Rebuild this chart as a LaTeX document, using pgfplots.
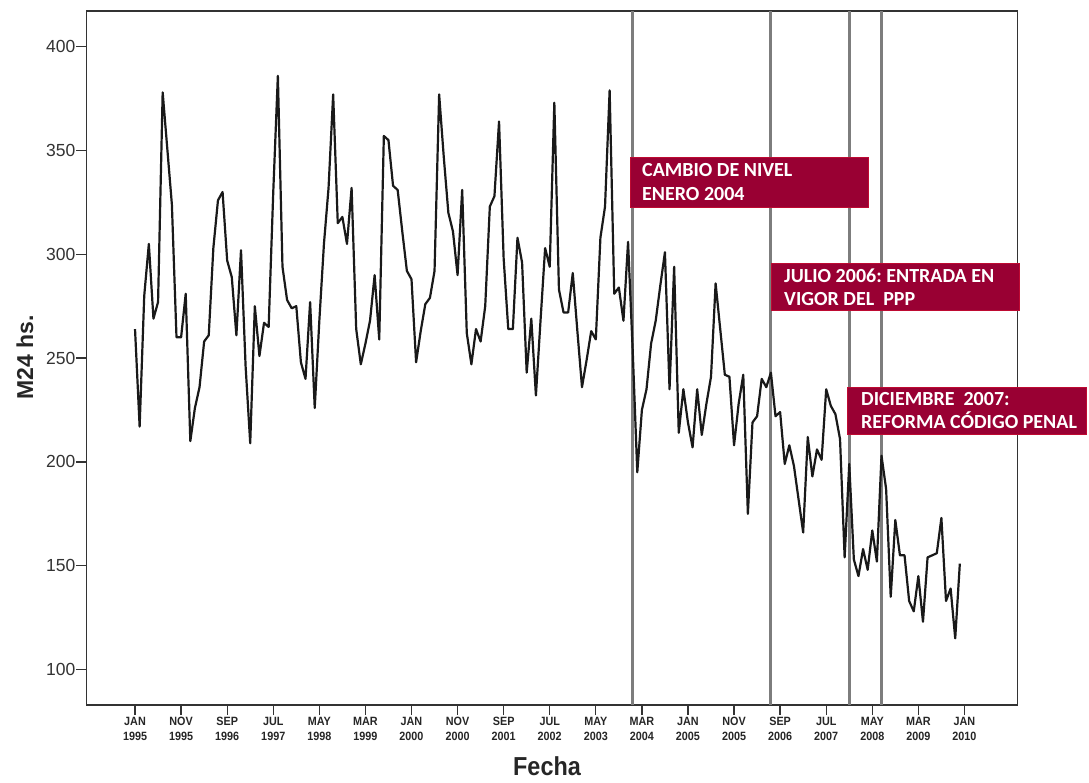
\documentclass[border=0pt]{standalone}
\usepackage{fontspec}
\setmainfont{Liberation Sans}
\newfontfamily\boxfont{Carlito}
\newfontfamily\narrowfont[FakeStretch=0.9]{Liberation Sans}
\newfontfamily\labelfont[FakeStretch=0.9]{Liberation Sans}
\usepackage{pgfplots}
\usepackage{pgfplotstable}
\pgfplotsset{compat=1.18}
\definecolor{boxred}{RGB}{153,0,51}
\definecolor{boxedge}{RGB}{190,10,50}
\definecolor{vline}{RGB}{125,125,125}

\pgfplotstableread{
m v
0 264
1 217
2 280
3 305
4 269
5 277
6 378
7 351
8 324
9 260
10 260
11 281
12 210
13 226
14 236
15 258
16 261
17 303
18 326
19 330
20 297
21 289
22 261
23 302
24 246
25 209
26 275
27 251
28 267
29 265
30 330
31 386
32 294
33 278
34 274
35 275
36 248
37 240
38 277
39 226
40 268
41 305
42 332
43 377
44 315
45 318
46 305
47 332
48 264
49 247
50 257
51 268
52 290
53 259
54 357
55 355
56 333
57 331
58 311
59 292
60 288
61 248
62 263
63 276
64 279
65 292
66 377
67 347
68 320
69 311
70 290
71 331
72 262
73 247
74 264
75 258
76 275
77 323
78 328
79 364
80 298
81 264
82 264
83 308
84 296
85 243
86 269
87 232
88 268
89 303
90 294
91 373
92 283
93 272
94 272
95 291
96 263
97 236
98 249
99 263
100 259
101 308
102 323
103 379
104 281
105 284
106 268
107 306
108 254
109 195
110 225
111 235
112 257
113 268
114 285
115 301
116 235
117 294
118 214
119 235
120 219
121 207
122 235
123 213
124 228
125 241
126 286
127 264
128 242
129 241
130 208
131 228
132 242
133 175
134 219
135 222
136 240
137 236
138 243
139 222
140 224
141 199
142 208
143 198
144 182
145 166
146 212
147 193
148 206
149 201
150 235
151 227
152 223
153 211
154 154
155 199
156 153
157 145
158 158
159 148
160 167
161 152
162 203
163 187
164 135
165 172
166 155
167 155
168 133
169 128
170 145
171 123
172 154
173 155
174 156
175 173
176 133
177 139
178 115
179 151
}\datatable

\begin{document}
\begin{tikzpicture}
\useasboundingbox (0,0) rectangle (1089pt,782pt);
\begin{axis}[
  at={(86.5pt,77pt)}, anchor=south west,
  scale only axis,
  width=931.2pt, height=694pt,
  xmin=-10.53, xmax=191.56,
  ymin=82.9, ymax=417.2,
  axis line style={black!80, line width=1.5pt},
  tick pos=left,
  tick align=outside,
  major tick length=10pt,
  tick style={black!80, line width=1.3pt},
  xtick={0,10,...,180},
  xticklabels={{JAN\\1995},{NOV\\1995},{SEP\\1996},{JUL\\1997},{MAY\\1998},{MAR\\1999},{JAN\\2000},{NOV\\2000},{SEP\\2001},{JUL\\2002},{MAY\\2003},{MAR\\2004},{JAN\\2005},{NOV\\2005},{SEP\\2006},{JUL\\2007},{MAY\\2008},{MAR\\2009},{JAN\\2010}},
  xticklabel style={font=\narrowfont\bfseries\fontsize{12}{14.8}\selectfont, align=center, text=black!85, inner sep=2pt},
  ytick={100,150,...,400},
  /pgf/number format/assume math mode=true,
  yticklabel style={font=\fontsize{17.5}{20}\selectfont, text=black!80, inner sep=1pt},
  clip=false,
]
\addplot[vline, line width=3pt] coordinates {(108,82.9) (108,417.2)};
\addplot[vline, line width=3pt] coordinates {(138,82.9) (138,417.2)};
\addplot[vline, line width=3pt] coordinates {(155,82.9) (155,417.2)};
\addplot[vline, line width=3pt] coordinates {(162,82.9) (162,417.2)};
\addplot[black!90, line width=2.2pt, line join=round, mark=none] table[x=m, y=v] {\datatable};
\end{axis}
% annotation boxes
\fill[boxred, draw=boxedge, line width=0.8pt] (630pt,575pt) rectangle (868pt,625pt);
\fill[boxred, draw=boxedge, line width=0.8pt] (771.7pt,471.3pt) rectangle (1019.7pt,518.7pt);
\fill[boxred, draw=boxedge, line width=0.8pt] (847.7pt,347.7pt) rectangle (1086pt,395pt);
\begin{scope}[every node/.style={anchor=base west, inner sep=0pt, text=white, font=\boxfont\bfseries\fontsize{20}{23}\selectfont}]
\node at (642pt,605.1pt) {CAMBIO DE NIVEL};
\node at (642pt,581.5pt) {ENERO 2004};
\node at (784pt,499.8pt) {JULIO 2006:\ ENTRADA EN};
\node at (784pt,476.5pt) {VIGOR DEL\ \ PPP};
\node at (861pt,376.8pt) {DICIEMBRE\ \ 2007:};
\node at (861pt,353.1pt) {REFORMA CÓDIGO PENAL};
\end{scope}
\node[font=\labelfont\bfseries\fontsize{26}{29}\selectfont, text=black!85] at (547pt,16pt) {Fecha};
\node[font=\bfseries\fontsize{23}{26}\selectfont, text=black!85, rotate=90] at (25pt,425pt) {M24 hs.};
\end{tikzpicture}
\end{document}
